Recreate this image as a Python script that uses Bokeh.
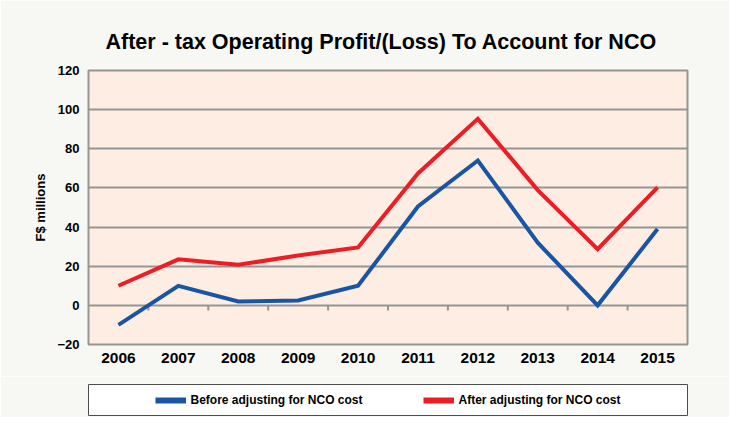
from bokeh.plotting import figure
from bokeh.models import (Range1d, FixedTicker, Title, Legend, LegendItem,
                          ColumnDataSource)
from bokeh.layouts import column
from bokeh.embed import file_html
from bokeh.resources import INLINE

# ---- data -------------------------------------------------------------
years = [2006, 2007, 2008, 2009, 2010, 2011, 2012, 2013, 2014, 2015]
before_nco = [-10, 10, 2, 2.5, 10, 50.5, 74, 32, 0, 39]
after_nco = [10, 23.5, 20.7, 25.5, 29.6, 67.4, 95.3, 58.9, 28.7, 60.3]
y_ticks = [-20, 0, 20, 40, 60, 80, 100, 120]
title_text = "After - tax Operating Profit/(Loss) To Account for NCO"
y_label = "F$ millions"
series_labels = ["Before adjusting for NCO cost", "After adjusting for NCO cost"]

FONT = "Liberation Sans"
BLUE = "#1a55a3"
RED = "#ee1d25"
GRID = "#959595"
PANEL = "#f7f7f3"
NAN = float("nan")

# ---- main chart -------------------------------------------------------
p = figure(width=729, height=376, output_backend="svg", toolbar_location=None,
           x_range=Range1d(years[0] - 0.5, years[-1] + 0.5),
           y_range=Range1d(-20, 120),
           min_border_left=88, min_border_right=42,
           min_border_top=70, min_border_bottom=32,
           background_fill_color="#fdede2", border_fill_color=PANEL,
           outline_line_color=GRID, outline_line_width=2)

t = Title(text=title_text, align="left", text_font=FONT,
          text_font_size="21.5px", text_font_style="bold", text_color="#000000",
          standoff=34, offset=17)
p.add_layout(t, "above")

# axes
p.xaxis.ticker = FixedTicker(ticks=years)
p.xaxis.axis_line_color = None
p.xaxis.major_tick_line_color = None
p.xaxis.minor_tick_line_color = None
p.xaxis.major_tick_out = 0
p.xaxis.major_tick_in = 0
p.xaxis.major_label_standoff = 8
p.xaxis.major_label_text_font = FONT
p.xaxis.major_label_text_font_size = "15.5px"
p.xaxis.major_label_text_font_style = "bold"
p.xaxis.major_label_text_color = "#000000"

p.yaxis.ticker = FixedTicker(ticks=y_ticks)
p.yaxis.axis_line_color = None
p.yaxis.major_tick_line_color = None
p.yaxis.minor_tick_line_color = None
p.yaxis.major_tick_out = 0
p.yaxis.major_tick_in = 0
p.yaxis.major_label_standoff = 9
p.yaxis.major_label_text_font = FONT
p.yaxis.major_label_text_font_size = "13px"
p.yaxis.major_label_text_font_style = "bold"
p.yaxis.major_label_text_color = "#000000"
p.yaxis.axis_label = y_label
p.yaxis.axis_label_standoff = 6
p.yaxis.axis_label_text_font = FONT
p.yaxis.axis_label_text_font_size = "13px"
p.yaxis.axis_label_text_font_style = "bold"
p.yaxis.axis_label_text_color = "#000000"

p.xgrid.grid_line_color = None
p.ygrid.grid_line_color = GRID
p.ygrid.grid_line_width = 2

# category boundary ticks hanging from the zero line
bx = [y + 0.5 for y in years[:-1]]
p.segment(x0=bx, x1=bx, y0=[0] * len(bx), y1=[-2.6] * len(bx),
          line_color=GRID, line_width=2)

src = ColumnDataSource(dict(x=years, b=before_nco, a=after_nco))
p.line("x", "b", source=src, line_color=BLUE, line_width=4, line_join="miter")
p.line("x", "a", source=src, line_color=RED, line_width=4, line_join="miter")

# ---- legend box -------------------------------------------------------
lg = figure(width=729, height=41, output_backend="svg", toolbar_location=None,
            x_range=Range1d(0, 1), y_range=Range1d(0, 1),
            x_axis_location=None, y_axis_location=None,
            min_border_left=87, min_border_right=41,
            min_border_top=8, min_border_bottom=2,
            background_fill_color="white", border_fill_color=PANEL,
            outline_line_color="#4d4d4d", outline_line_width=1)
lg.grid.visible = False
r1 = lg.line(x=[0.0, 1.0], y=[NAN, NAN], line_color=BLUE, line_width=6)
r2 = lg.line(x=[0.0, 1.0], y=[NAN, NAN], line_color=RED, line_width=6)
legend = Legend(items=[LegendItem(label=series_labels[0], renderers=[r1]),
                       LegendItem(label=series_labels[1], renderers=[r2])],
                location="center", orientation="horizontal",
                spacing=60, label_standoff=5, glyph_width=31, glyph_height=20,
                padding=0, margin=0,
                border_line_alpha=0, background_fill_alpha=0,
                label_text_font=FONT, label_text_font_size="12px",
                label_text_font_style="bold", label_text_color="#000000")
lg.add_layout(legend, "center")

layout = column(p, lg, spacing=0)
open("out.html", "w").write(file_html(layout, INLINE))
